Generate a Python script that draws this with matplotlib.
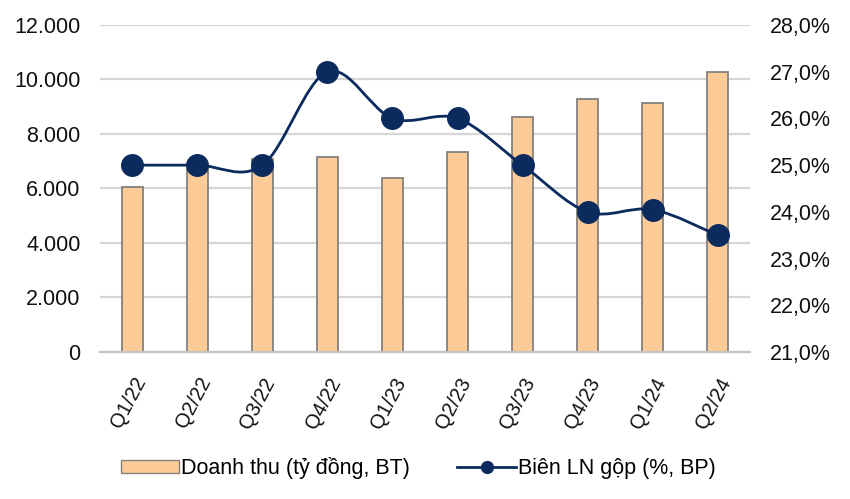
import numpy as np
import matplotlib.pyplot as plt
from matplotlib.path import Path
from matplotlib.patches import PathPatch
from matplotlib.lines import Line2D
from matplotlib.patches import Patch
from matplotlib.ticker import FuncFormatter

plt.rcParams['font.family'] = ['Liberation Sans', 'DejaVu Sans']

quarters = ['Q1/22', 'Q2/22', 'Q3/22', 'Q4/22', 'Q1/23', 'Q2/23', 'Q3/23', 'Q4/23', 'Q1/24', 'Q2/24']
revenue = [6050, 6700, 7100, 7150, 6380, 7350, 8630, 9300, 9150, 10280]  # ty dong
margin = [25.0, 25.0, 25.0, 27.0, 26.0, 26.0, 25.0, 24.0, 24.05, 23.5]  # %

bar_color = '#FCCB98'
line_color = '#0B2A5E'

fig = plt.figure(figsize=(8.5, 4.99), dpi=100)
ax = fig.add_axes([0.1176, 0.2946, 0.7648, 0.6553])
x = np.arange(len(quarters))

ax.bar(x, revenue, width=0.31, color=bar_color, edgecolor='#85817c', linewidth=1.3, zorder=2)
ax.set_ylim(0, 12000)
ax.set_xlim(-0.5, len(quarters) - 0.5)
ax.set_yticks(np.arange(0, 12001, 2000))
ax.yaxis.set_major_formatter(FuncFormatter(lambda v, p: '{:,.0f}'.format(v).replace(',', '.')))
ax.grid(axis='y', color='#d6d6d6', linewidth=1.6, zorder=0)
for s in ['top', 'right', 'left']:
    ax.spines[s].set_visible(False)
ax.spines['bottom'].set_color('#c4c4c4')
ax.spines['bottom'].set_linewidth(1.6)
ax.tick_params(axis='y', length=0, labelsize=15.5, colors='#111111', pad=14)
ax.set_xticks(x)
ax.set_xticklabels(quarters, rotation=62, ha='right', va='top', rotation_mode='anchor')
ax.tick_params(axis='x', length=0, labelsize=14.5, colors='#111111', pad=16)

ax2 = ax.twinx()
ax2.set_ylim(21, 28)
ax2.set_yticks(np.arange(21, 28.1, 1))
ax2.yaxis.set_major_formatter(FuncFormatter(lambda v, p: '{:.1f}%'.format(v).replace('.', ',')))
for s in ax2.spines.values():
    s.set_visible(False)
ax2.tick_params(axis='y', length=0, labelsize=15.5, colors='#111111', pad=14)

# smooth curve through the points (cardinal spline drawn as bezier segments)
pts = np.column_stack([x, margin]).astype(float)
verts = [tuple(pts[0])]
codes = [Path.MOVETO]
t = 1 / 6
for i in range(len(pts) - 1):
    p0 = pts[i - 1] if i > 0 else pts[i]
    p1 = pts[i]
    p2 = pts[i + 1]
    p3 = pts[i + 2] if i + 2 < len(pts) else pts[i + 1]
    c1 = p1 + (p2 - p0) * t
    c2 = p2 - (p3 - p1) * t
    verts += [tuple(c1), tuple(c2), tuple(p2)]
    codes += [Path.CURVE4] * 3
ax2.add_patch(PathPatch(Path(verts, codes), fill=False, edgecolor=line_color, linewidth=2, zorder=3))
ax2.plot(x, margin, 'o', color=line_color, markersize=15.5, zorder=4)

handles = [Patch(facecolor=bar_color, edgecolor='#85817c'),
           Line2D([0], [0], color=line_color, linewidth=2, marker='o', markersize=8.5)]
fig.legend(handles, ['Doanh thu (tỷ đồng, BT)', 'Biên LN gộp (%, BP)'], loc='center',
           bbox_to_anchor=(0.492, 0.062), ncol=2, frameon=False, fontsize=15.5,
           handlelength=2.7, handleheight=0.6, handletextpad=0.1, columnspacing=2.2)

fig.savefig('out.png', dpi=100, facecolor='white')
